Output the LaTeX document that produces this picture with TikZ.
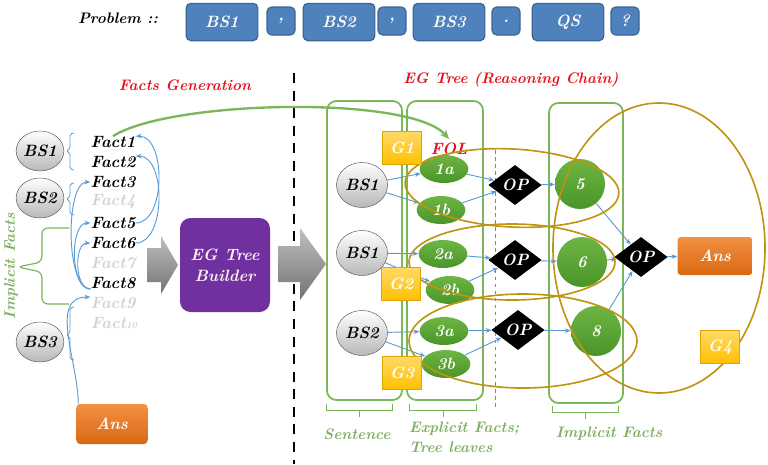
\documentclass[tikz,border=0pt]{standalone}
\usepackage{amsmath}
\usepackage[dvipsnames]{xcolor}
\usetikzlibrary{shapes.geometric,arrows.meta,calc}

\definecolor{probblue}{HTML}{4F81BD}
\definecolor{probedge}{HTML}{3B6595}
\definecolor{titlered}{HTML}{E3121C}
\definecolor{linkblue}{HTML}{5B9BD5}
\definecolor{framegreen}{HTML}{7CB65A}
\definecolor{labelgreen}{HTML}{7FAF62}
\definecolor{leafgreen}{HTML}{4A9528}
\definecolor{leafgreenlt}{HTML}{6DB544}
\definecolor{ringgold}{HTML}{BF9412}
\definecolor{gboxyellow}{HTML}{FFC000}
\definecolor{gboxedge}{HTML}{DDA500}
\definecolor{ansorange}{HTML}{F07414}
\definecolor{builderpurple}{HTML}{7030A0}
\definecolor{fadedfact}{HTML}{D2D2D2}

\tikzset{
    bi/.style={font=\fontsize{14}{18}\selectfont\bfseries\itshape},
    bismall/.style={font=\fontsize{13}{17}\selectfont\bfseries\itshape},
    probbox/.style={bi, draw=probedge, line width=1pt, fill=probblue, text=white,
        rounded corners=4pt, minimum width=2.15cm, minimum height=1.12cm},
    sepbox/.style={probbox, minimum width=0.84cm, minimum height=0.84cm, inner sep=0pt},
    fact/.style={bi, inner sep=0pt},
    faded/.style={fact, text=fadedfact},
    sent/.style={bi, ellipse, draw=black!65, thin, top color=white, bottom color=black!28, inner sep=0pt},
    leaf/.style={bi, ellipse, top color=leafgreenlt, bottom color=leafgreen, text=white,
        minimum width=1.46cm, minimum height=0.84cm, inner sep=0pt},
    implicit/.style={bi, circle, top color=leafgreenlt, bottom color=leafgreen, text=white,
        minimum size=1.5cm, inner sep=0pt},
    opnode/.style={bi, diamond, fill=black, text=white, minimum width=1.6cm,
        minimum height=1.2cm, inner sep=0pt},
    gbox/.style={bi, draw=gboxedge, top color=gboxyellow!60!white, bottom color=gboxyellow,
        text=white, minimum width=1.18cm, minimum height=1cm, inner sep=0pt},
    ansbox/.style={bi, rounded corners=3pt, top color=ansorange!80!white,
        bottom color=ansorange!90!black, text=white, inner sep=0pt},
    link/.style={draw=linkblue, line width=0.8pt, -{Stealth[length=5pt,width=4pt]}},
    col/.style={draw=framegreen, line width=1.5pt, rounded corners=8pt},
    ring/.style={draw=ringgold, line width=1.4pt},
    tag/.style={bismall, text=labelgreen},
}

\begin{document}
\begin{tikzpicture}[x=0.03cm, y=-0.03cm]
    \useasboundingbox (0,0) rectangle (768,464);

    % problem row
    \node[bismall] (prob) at (118,18) {Problem ::};
    \node[probbox] (pbs1) at (222,22) {BS1};
    \node[sepbox] (pc1) at (281,21) {,};
    \node[probbox] (pbs2) at (339,22) {BS2};
    \node[sepbox] (pc2) at (392,21) {,};
    \node[probbox] (pbs3) at (449,22) {BS3};
    \node[sepbox] (pc3) at (506,21) {.};
    \node[probbox] (pqs) at (568,22) {QS};
    \node[sepbox] (pq) at (625,21) {?};

    \node[bismall, text=titlered] (fgen) at (185,85) {Facts Generation};
    \node[bismall, text=titlered] (egt) at (511,80) {EG Tree (Reasoning Chain)};

    \draw[line width=2.4pt, dash pattern=on 8.5pt off 6.5pt] (294,73) -- (294,464);

    % facts generation
    \node[sent, minimum width=1.38cm, minimum height=1.2cm] (lbs1) at (40,151) {BS1};
    \node[sent, minimum width=1.38cm, minimum height=1.2cm] (lbs2) at (40,198) {BS2};
    \node[sent, minimum width=1.38cm, minimum height=1.2cm] (lbs3) at (40,342) {BS3};

    \node[fact] (f1) at (113,142) {Fact1};
    \node[fact] (f2) at (113,162) {Fact2};
    \node[fact] (f3) at (113,182) {Fact3};
    \node[faded] (f4) at (113,202) {Fact4};
    \node[fact] (f5) at (113,223) {Fact5};
    \node[fact] (f6) at (113,243) {Fact6};
    \node[faded] (f7) at (113,263) {Fact7};
    \node[fact] (f8) at (113,283) {Fact8};
    \node[faded] (f9) at (113,303) {Fact9};
    \node[faded] (f10) at (114,323) {Fact{\footnotesize 10}};

    \draw[linkblue, line width=0.7pt, rounded corners=1.5pt]
        (74,133) -- (70,134) -- (70,149) -- (66,151) -- (70,153) -- (70,169) -- (74,170);
    \draw[linkblue, line width=0.7pt, rounded corners=1.5pt]
        (74,183) -- (70,184) -- (70,197) -- (66,199) -- (70,201) -- (70,214) -- (74,215);
    \draw[linkblue, line width=0.7pt, rounded corners=1.5pt]
        (74,307) -- (70,308) -- (70,333) -- (66,335) -- (70,337) -- (70,359) -- (74,360);

    \draw[framegreen, line width=1pt, rounded corners=5pt]
        (69,228) -- (42,228) -- (42,262) -- (17,267) -- (42,272) -- (42,304) -- (69,304);
    \node[tag, rotate=90] (impl) at (11,266) {Implicit Facts};

    \node[ansbox, minimum width=2.13cm, minimum height=1.2cm] (ansl) at (112,424) {Ans};

    \draw[link] (f5.east) to[out=0, in=0, looseness=0.9] (f1.north east);
    \draw[link] (f6.east) to[out=0, in=0, looseness=0.9] (f2.north east);
    \draw[link] (f8.south west) to[out=180, in=180, looseness=0.6] (f3.west);
    \draw[link] (f8.south west) to[out=180, in=180, looseness=0.8] (f5.west);
    \draw[link] (f8.south west) to[out=180, in=180, looseness=0.9] (f6.west);
    \draw[link] ($(ansl.north west)+(2,0)$) to[out=90, in=180] (f9.north west);

    % builder
    \shade[top color=black!25, bottom color=black!55]
        (147,248) -- (161,248) -- (161,236) -- (178,265) -- (161,294) -- (161,282) -- (147,282) -- cycle;
    \node[bi, fill=builderpurple, rounded corners=9pt, text=pink!25, align=center,
        minimum width=2.7cm, minimum height=2.82cm] (egb) at (225,265) {EG Tree\\Builder};
    \shade[top color=black!25, bottom color=black!55]
        (278,246) -- (300,246) -- (300,228) -- (326,264) -- (300,300) -- (300,282) -- (278,282) -- cycle;

    % EG tree
    \draw[col] (327,101) rectangle (402,400);
    \draw[col] (407,101) rectangle (483,400);
    \draw[col] (549,103) rectangle (623,403);
    \draw[framegreen, line width=0.8pt] (326,404) -- (326,410) -- (392,410) -- (392,404) (359,410) -- (359,417);
    \draw[framegreen, line width=0.8pt] (409,404) -- (409,410) -- (476,410) -- (476,404) (443,410) -- (443,417);
    \draw[framegreen, line width=0.8pt] (552,406) -- (552,412) -- (618,412) -- (618,406) (585,412) -- (585,419);
    \node[tag] (lsen) at (357,434) {Sentence};
    \node[tag, align=left, anchor=west] (lexp) at (405,437) {Explicit Facts;\\Tree leaves};
    \node[tag] (limp) at (609,434) {Implicit Facts};

    \draw[violet!60, dashed, line width=0.8pt] (495,150) -- (495,408);

    \node[sent, minimum width=1.53cm, minimum height=1.35cm] (rbs1) at (362,185) {BS1};
    \node[sent, minimum width=1.53cm, minimum height=1.35cm] (rbs2) at (362,253) {BS1};
    \node[sent, minimum width=1.53cm, minimum height=1.35cm] (rbs3) at (362,333) {BS2};

    \node[leaf] (l1a) at (444,169) {1a};
    \node[leaf] (l1b) at (441,210) {1b};
    \node[leaf] (l2a) at (443,254) {2a};
    \node[leaf] (l2b) at (450,290) {2b};
    \node[leaf] (l3a) at (444,331) {3a};
    \node[leaf] (l3b) at (446,364) {3b};

    \node[opnode] (op1) at (515,185) {OP};
    \node[opnode] (op2) at (515,260) {OP};
    \node[opnode] (op3) at (518,330) {OP};
    \node[opnode] (op4) at (641,257) {OP};

    \node[implicit] (n5) at (580,184) {5};
    \node[implicit] (n6) at (582,262) {6};
    \node[implicit] (n8) at (596,331) {8};

    \node[ansbox, minimum width=2.25cm, minimum height=1.14cm] (ansr) at (715,256) {Ans};
    \node[bi, text=titlered] (fol) at (449,149) {FOL};

    \draw[link] (rbs1) -- (l1a);
    \draw[link] (rbs1) -- (l1b);
    \draw[link] (rbs2) -- (l2a);
    \draw[link] (rbs2) -- (l2b);
    \draw[link] (rbs3) -- (l3a);
    \draw[link] (rbs3) -- (l3b);
    \draw[link] (l1a) -- (op1);
    \draw[link] (l1b) -- (op1);
    \draw[link] (l2a) -- (op2);
    \draw[link] (l2b) -- (op2);
    \draw[link] (l3a) -- (op3);
    \draw[link] (l3b) -- (op3);
    \draw[link] (op1) -- (n5);
    \draw[link] (op2) -- (n6);
    \draw[link] (op3) -- (n8);
    \draw[link] (n5) -- (op4);
    \draw[link] (n6) -- (op4);
    \draw[link] (n8) -- (op4);
    \draw[link] (op4) -- (ansr);

    \draw[framegreen, line width=2pt, -{Stealth[length=8pt,width=7pt]}]
        (f1.north) .. controls (170,100) and (410,95) .. (fol.north);

    % groups
    \draw[ring, rotate around={-3:(512,188)}] (512,188) ellipse [x radius=3.21cm, y radius=1.17cm];
    \draw[ring] (512,262) ellipse [x radius=3.09cm, y radius=1.14cm];
    \draw[ring] (523,341) ellipse [x radius=3.42cm, y radius=1.41cm];
    \draw[ring] (659,248) ellipse [x radius=3.18cm, y radius=4.35cm];

    \node[gbox] (g1) at (402,148) {G1};
    \node[gbox] (g2) at (401,284) {G2};
    \node[gbox] (g3) at (402,373) {G3};
    \node[gbox] (g4) at (720,347) {G4};
\end{tikzpicture}
\end{document}
